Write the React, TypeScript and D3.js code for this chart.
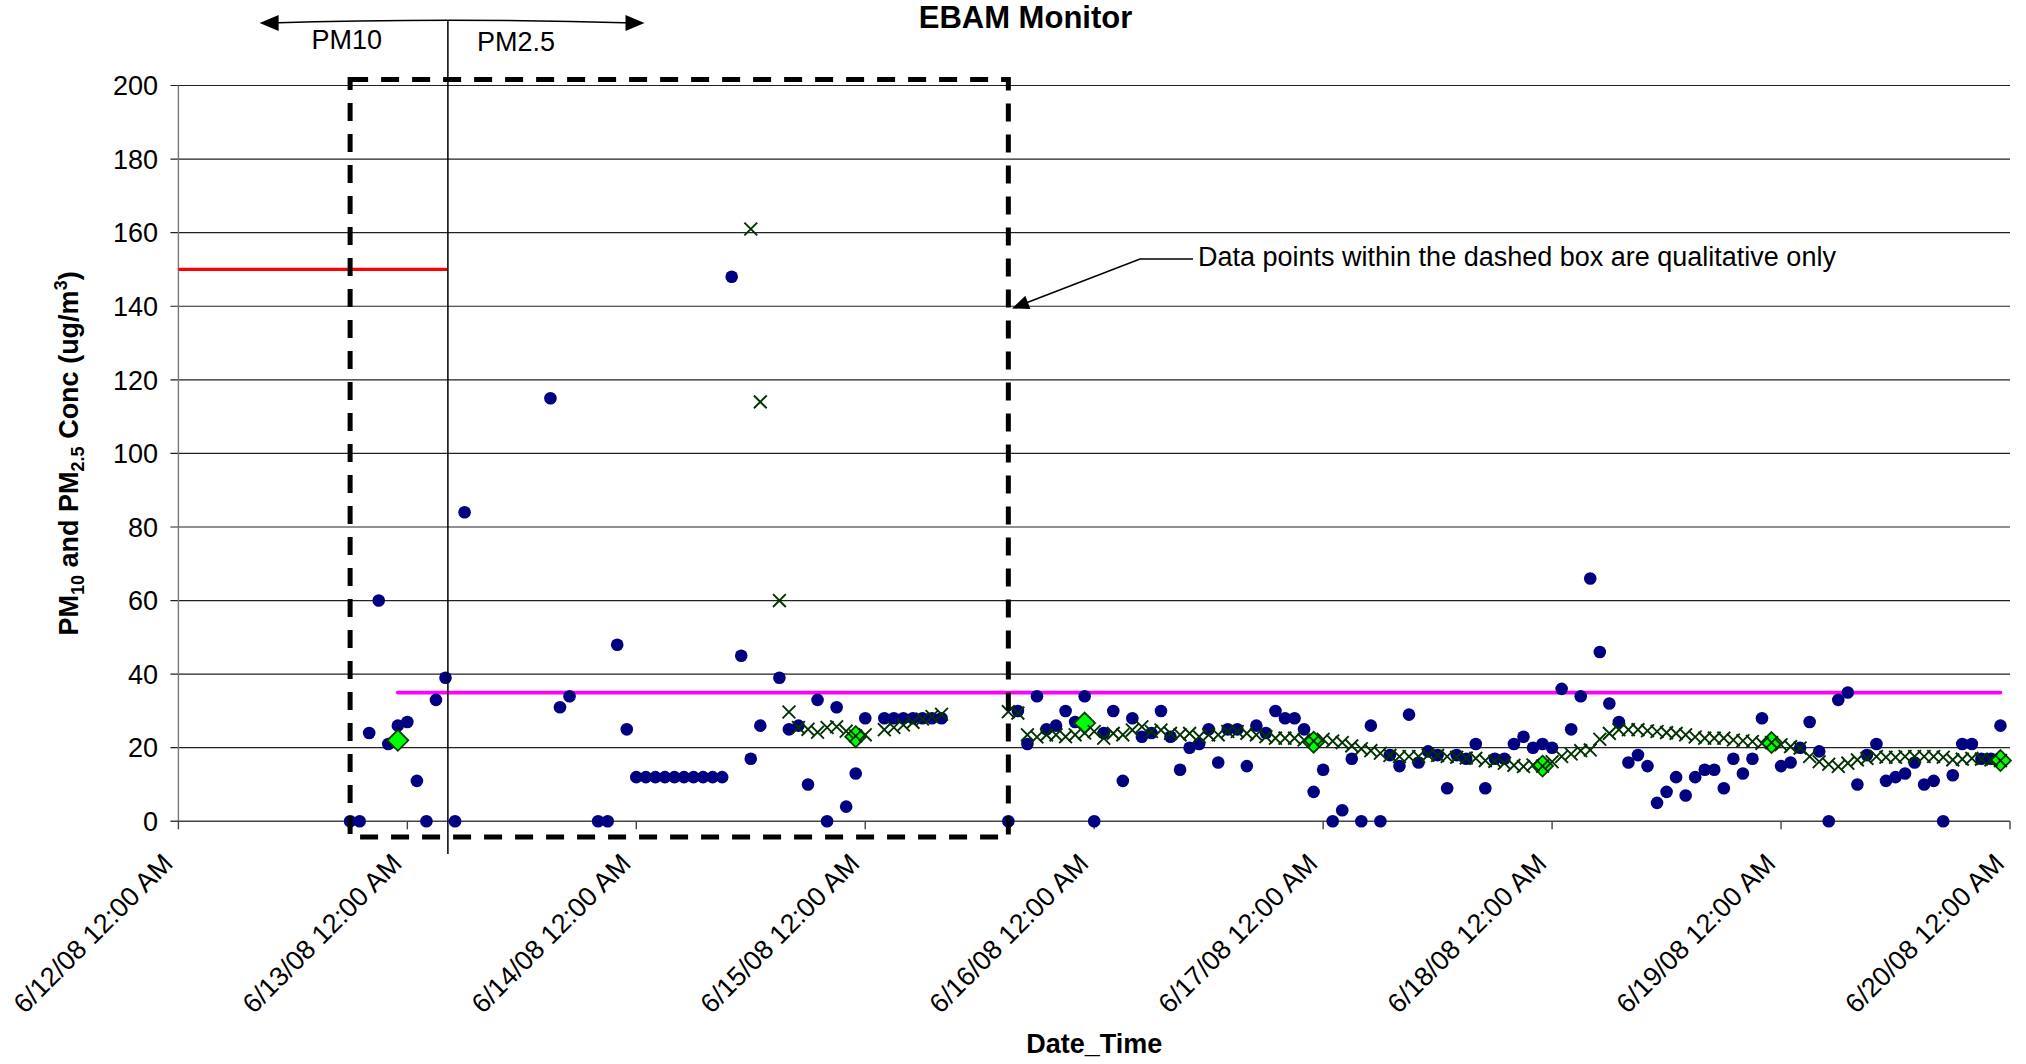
import React from "react";
import * as d3 from "d3";

const W = 2026;
const H = 1064;
const FONT = "'Liberation Sans', Arial, sans-serif";

const START = new Date(2008, 5, 12, 0, 0);
const END = new Date(2008, 5, 20, 0, 0);
const HOUR_MS = 3600 * 1000;

const xTickLabels = [
  "6/12/08 12:00 AM",
  "6/13/08 12:00 AM",
  "6/14/08 12:00 AM",
  "6/15/08 12:00 AM",
  "6/16/08 12:00 AM",
  "6/17/08 12:00 AM",
  "6/18/08 12:00 AM",
  "6/19/08 12:00 AM",
  "6/20/08 12:00 AM",
];
const yTickValues = [0, 20, 40, 60, 80, 100, 120, 140, 160, 180, 200];

// hourly EBAM readings: [hours since 6/12/08 00:00, concentration]
const hourlyReadings: [number, number][] = [
  [18, 0], [19, 0], [20, 24], [21, 60], [22, 21], [23, 26], [24, 27], [25, 11], [26, 0], [27, 33], [28, 39], [29, 0], [30, 84],
  [39, 115], [40, 31], [41, 34],
  [44, 0], [45, 0], [46, 48], [47, 25], [48, 12], [49, 12], [50, 12], [51, 12], [52, 12], [53, 12], [54, 12], [55, 12], [56, 12], [57, 12],
  [58, 148], [59, 45], [60, 17], [61, 26], [63, 39], [64, 25], [65, 26], [66, 10], [67, 33], [68, 0], [69, 31], [70, 4], [71, 13], [72, 28],
  [74, 28], [75, 28], [76, 28], [77, 28], [78, 28], [79, 28], [80, 28],
  [87, 0], [88, 30], [89, 21], [90, 34], [91, 25], [92, 26], [93, 30], [94, 27], [95, 34], [96, 0], [97, 24], [98, 30], [99, 11], [100, 28],
  [101, 23], [102, 24], [103, 30], [104, 23], [105, 14], [106, 20], [107, 21], [108, 25], [109, 16], [110, 25], [111, 25], [112, 15], [113, 26],
  [114, 24], [115, 30], [116, 28], [117, 28], [118, 25],
  [119, 8], [120, 14], [121, 0], [122, 3], [123, 17], [124, 0], [125, 26], [126, 0], [127, 18], [128, 15], [129, 29], [130, 16], [131, 19],
  [132, 18], [133, 9], [134, 18], [135, 17], [136, 21], [137, 9], [138, 17], [139, 17], [140, 21], [141, 23], [142, 20], [143, 21],
  [144, 20], [145, 36], [146, 25], [147, 34], [148, 66], [149, 46], [150, 32], [151, 27], [152, 16], [153, 18], [154, 15], [155, 5],
  [156, 8], [157, 12], [158, 7], [159, 12], [160, 14], [161, 14], [162, 9], [163, 17], [164, 13], [165, 17], [166, 28],
  [168, 15], [169, 16], [170, 20], [171, 27], [172, 19], [173, 0], [174, 33], [175, 35], [176, 10], [177, 18], [178, 21], [179, 11],
  [180, 12], [181, 13], [182, 16], [183, 10], [184, 11], [185, 0], [186, 12.5], [187, 21], [188, 21], [189, 17], [190, 17], [191, 26],
];

// 24-hour running average: [hours, value]
const runningAverage: [number, number][] = [
  [60, 161], [61, 114], [63, 60], [64, 29.7], [65, 25.5], [66, 25], [67, 24.2], [68, 25.5], [69, 25.7], [70, 24.5], [71, 23.2], [72, 23.5],
  [74, 24.9], [75, 25.5], [76, 26.2], [77, 26.9], [78, 27.8], [79, 28.5], [80, 29.1],
  [87, 29.8], [88, 29.4], [89, 23.5], [90, 22.9], [91, 23.5], [92, 23.5], [93, 23.0], [94, 23.5], [95, 24.0], [96, 24.4], [97, 22.6],
  [98, 23.9], [99, 23.5], [100, 24.8], [101, 25.7], [102, 24.4], [103, 24.8], [104, 23.9], [105, 23.5], [106, 23.9], [107, 23.0],
  [108, 23.5], [109, 23.5], [110, 24.4], [111, 24.4], [112, 23.9], [113, 23.5], [114, 23.0], [115, 22.6], [116, 22.6], [117, 22.6], [118, 22.1],
  [119, 21.8], [120, 22.3], [121, 21.8], [122, 21.4], [123, 20.5], [124, 19.7], [125, 19.2], [126, 18.5], [127, 17.9], [128, 17.6],
  [129, 17.6], [130, 17.6], [131, 18.0], [132, 17.9], [133, 17.6], [134, 17.4], [135, 17.2], [136, 17.1], [137, 16.5], [138, 16.3],
  [139, 15.8], [140, 15.2], [141, 14.9], [142, 15.3], [143, 15.0],
  [144, 16.2], [145, 17.6], [146, 18.3], [147, 19.2], [148, 19.4], [149, 22.3], [150, 23.9], [151, 24.9], [152, 24.9], [153, 24.9],
  [154, 24.6], [155, 24.4], [156, 24.1], [157, 23.9], [158, 23.5], [159, 22.9], [160, 22.6], [161, 22.6], [162, 22.6], [163, 22.1],
  [164, 21.9], [165, 21.7], [166, 21.2], [167, 21.4], [168, 20.8],
  [169, 20.3], [170, 19.9], [171, 17.6], [172, 16.2], [173, 15.5], [174, 14.9], [175, 15.8], [176, 16.7], [177, 17.1], [178, 17.6],
  [179, 17.4], [180, 17.4], [181, 17.6], [182, 17.6], [183, 17.6], [184, 17.6], [185, 17.4], [186, 16.7], [187, 16.9], [188, 17.1],
  [189, 16.9], [190, 16.7], [191, 16.5],
];

// daily averages plotted at 23:00 of each day
const dailyAverageHours = [23, 71, 95, 119, 143, 167, 191];
const dailyAverageValues = [22, 23, 26.7, 21.5, 15.0, 21.4, 16.5];

// standards
const pm10Standard = 150;
const pm10StandardHours = [0, 28.25];
const pm25Standard = 35;
const pm25StandardHours = [23, 191];

// qualitative-only window (dashed box) and PM10/PM2.5 switch time
const qualitativeHours = [18, 87];
const qualitativeValues = [-4.3, 201.6];
const switchHour = 28.25;

const at = (h: number) => new Date(START.getTime() + h * HOUR_MS);

function arrowHead(tx: number, ty: number, fx: number, fy: number, len: number, halfW: number) {
  const dx = tx - fx;
  const dy = ty - fy;
  const d = Math.sqrt(dx * dx + dy * dy);
  const ux = dx / d;
  const uy = dy / d;
  const bx = tx - ux * len;
  const by = ty - uy * len;
  const px = -uy;
  const py = ux;
  return `${tx},${ty} ${bx + px * halfW},${by + py * halfW} ${bx - px * halfW},${by - py * halfW}`;
}

export default function App() {
  const x = d3.scaleTime().domain([START, END]).range([178.4, 2010]);
  const y = d3.scaleLinear().domain([0, 200]).range([821.3, 85.5]);
  const xTicks = d3.timeDay.range(START, d3.timeDay.offset(END, 1));
  const [x0, x1] = x.range();
  const y0 = y(0);

  const xh = (h: number) => x(at(h));
  const diamond = d3.symbol().type(d3.symbolDiamond2).size(2 * 11.8 * 11.8)();

  const swX = xh(switchHour);

  return (
    <svg
      width={W}
      height={H}
      style={{ position: "absolute", left: 0, top: 0, background: "#fff" }}
      fontFamily={FONT}
    >
      <rect x={0} y={0} width={W} height={H} fill="#fff" />

      {/* gridlines */}
      {yTickValues.filter((v) => v > 0).map((v) => (
        <line key={"g" + v} x1={x0 - 8} x2={x1} y1={y(v)} y2={y(v)} stroke="#222" strokeWidth={1.2} />
      ))}

      {/* axes */}
      <line x1={x0} x2={x0} y1={y(200)} y2={y0} stroke="#777" strokeWidth={1.4} />
      <line x1={x0 - 8} x2={x1} y1={y0} y2={y0} stroke="#444" strokeWidth={1.4} />
      {xTicks.map((t, i) => (
        <line key={"xt" + i} x1={x(t)} x2={x(t)} y1={y0} y2={y0 + 8} stroke="#444" strokeWidth={1.4} />
      ))}

      {/* y tick labels */}
      {yTickValues.map((v) => (
        <text key={"yl" + v} x={158} y={y(v)} dy="0.36em" textAnchor="end" fontSize={27} fill="#000">
          {v}
        </text>
      ))}

      {/* x tick labels */}
      {xTicks.map((t, i) => (
        <text
          key={"xl" + i}
          transform={`translate(${x(t) - 4},${865}) rotate(-45)`}
          textAnchor="end"
          fontSize={27}
          fill="#000"
        >
          {xTickLabels[i]}
        </text>
      ))}

      {/* standards */}
      <line
        x1={xh(pm10StandardHours[0])}
        x2={xh(pm10StandardHours[1])}
        y1={y(pm10Standard)}
        y2={y(pm10Standard)}
        stroke="#ff0000"
        strokeWidth={3.2}
      />
      <line
        x1={xh(pm25StandardHours[0])}
        x2={xh(pm25StandardHours[1])}
        y1={y(pm25Standard)}
        y2={y(pm25Standard)}
        stroke="#ff00ff"
        strokeWidth={3.7}
        strokeLinecap="round"
      />

      {/* hourly points */}
      {hourlyReadings.map(([h, v], i) => (
        <ellipse key={"p" + i} cx={xh(h)} cy={y(v)} rx={6.3} ry={6.3} fill="#000080" />
      ))}

      {/* daily averages */}
      {dailyAverageHours.map((h, i) => (
        <path
          key={"d" + i}
          d={diamond || ""}
          transform={`translate(${xh(h)},${y(dailyAverageValues[i])})`}
          fill="#00ff00"
          stroke="#0a3a0a"
          strokeWidth={1.8}
        />
      ))}

      {/* running average X markers */}
      {runningAverage.map(([h, v], i) => {
        const cx = xh(h);
        const cy = y(v);
        const s = 6.4;
        return (
          <path
            key={"x" + i}
            d={`M${cx - s},${cy - s}L${cx + s},${cy + s}M${cx - s},${cy + s}L${cx + s},${cy - s}`}
            stroke="#003300"
            strokeWidth={1.9}
            fill="none"
          />
        );
      })}

      {/* dashed qualitative box */}
      <rect
        x={xh(qualitativeHours[0])}
        y={y(qualitativeValues[1])}
        width={xh(qualitativeHours[1]) - xh(qualitativeHours[0])}
        height={y(qualitativeValues[0]) - y(qualitativeValues[1])}
        fill="none"
        stroke="#000"
        strokeWidth={5}
        strokeDasharray="18 13"
      />

      {/* PM10 / PM2.5 divider and arrows */}
      <line x1={swX} x2={swX} y1={20} y2={854} stroke="#000" strokeWidth={1.5} />
      <path d={`M${270},${23} Q${swX},${17.5} ${634},${23}`} fill="none" stroke="#000" strokeWidth={1.6} />
      <polygon points={arrowHead(259.6, 23, 290, 23, 19, 8)} fill="#000" />
      <polygon points={arrowHead(644.5, 23, 610, 23, 19, 8)} fill="#000" />
      <text x={311.5} y={49} fontSize={27} fill="#000">PM10</text>
      <text x={477} y={51} fontSize={27} fill="#000">PM2.5</text>

      {/* annotation */}
      <polyline points={`1193,259 1140,259 1022,304.5`} fill="none" stroke="#000" strokeWidth={1.6} />
      <polygon points={arrowHead(1012, 308.5, 1140, 259, 17, 7)} fill="#000" />
      <text x={1198} y={266} fontSize={27} fill="#000">
        Data points within the dashed box are qualitative only
      </text>

      {/* title */}
      <text x={1025.5} y={28} textAnchor="middle" fontSize={31} fontWeight="bold" fill="#000">
        EBAM Monitor
      </text>

      {/* axis titles */}
      <text x={(x0 + x1) / 2} y={1053} textAnchor="middle" fontSize={27} fontWeight="bold" fill="#000">
        Date_Time
      </text>
      <text
        transform={`translate(78,${(y(0) + y(200)) / 2}) rotate(-90)`}
        textAnchor="middle"
        fontSize={27}
        fontWeight="bold"
        fill="#000"
      >
        <tspan>PM</tspan>
        <tspan fontSize={18} dy={6}>10</tspan>
        <tspan dy={-6}> and PM</tspan>
        <tspan fontSize={18} dy={6}>2.5</tspan>
        <tspan dy={-6}> Conc (ug/m</tspan>
        <tspan fontSize={18} dy={-11}>3</tspan>
        <tspan dy={11}>)</tspan>
      </text>
    </svg>
  );
}
